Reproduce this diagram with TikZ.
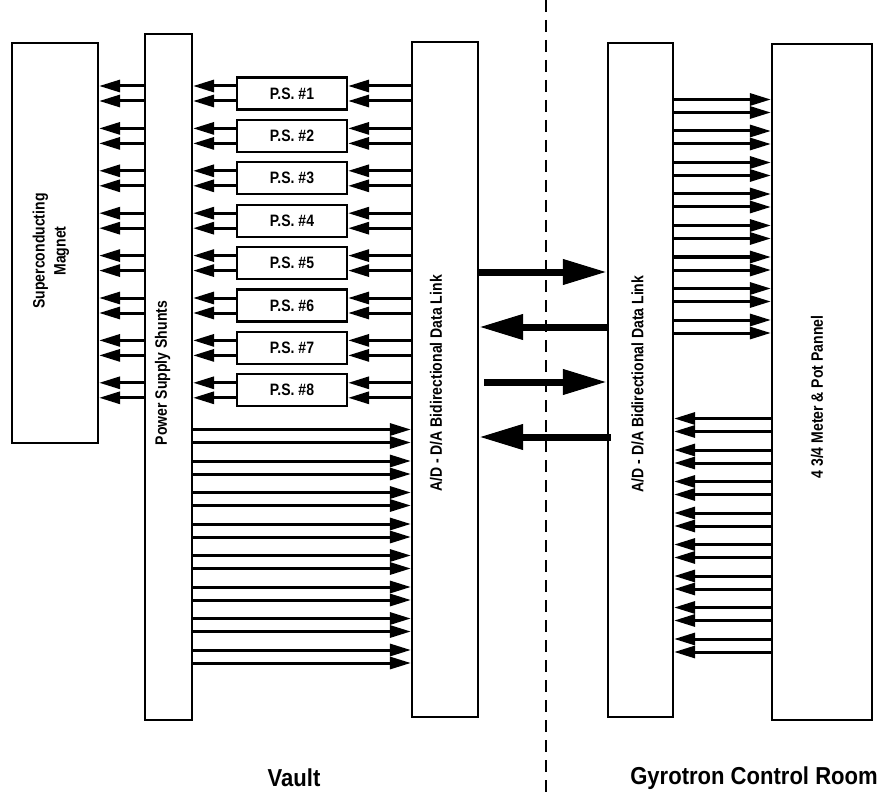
\documentclass[tikz,border=0pt]{standalone}
\usepackage{fontspec}
\setmainfont{Liberation Sans}
\newfontfamily\condfont[FakeStretch=0.85]{Liberation Sans}
\newfontfamily\roomfont[FakeStretch=0.9]{Liberation Sans}
\usetikzlibrary{arrows.meta,calc}

\begin{document}
\begin{tikzpicture}[
            x=1pt, y=-1pt,
            box/.style={draw, line width=2.2pt, rectangle, inner sep=0pt},
            psbox/.style={draw, line width=2.2pt, rectangle, minimum width=110pt, minimum height=32pt, inner sep=0pt, font=\condfont\bfseries\fontsize{16.5}{18}\selectfont},
            lbl/.style={rotate=90, align=center, inner sep=0pt, font=\condfont\bfseries\fontsize{16.5}{21}\selectfont},
            room/.style={inner sep=0pt, font=\roomfont\bfseries\fontsize{24.5}{26}\selectfont},
            wire/.style={draw, line width=3pt, -{Triangle[length=21pt,width=12pt]}},
            bus/.style={draw, line width=7pt, -{Triangle[length=44pt,width=24pt]}},
            divider/.style={draw, line width=1.8pt, dash pattern=on 12pt off 8pt}
        ]
        \useasboundingbox (0,0) rectangle (880,794);

        % blocks
        \node[box, minimum width=86pt, minimum height=400pt] (magnet) at (55,243) {};
        \node[box, minimum width=47pt, minimum height=686pt] (shunts) at (168.5,377) {};
        \node[box, minimum width=66pt, minimum height=675pt] (linkL) at (445,379.5) {};
        \node[box, minimum width=65pt, minimum height=674pt] (linkR) at (640.5,380) {};
        \node[box, minimum width=100pt, minimum height=676pt] (meter) at (822,382) {};

        \node[lbl] (magnetlbl) at ([xshift=-4pt,yshift=-8pt]magnet.center) {Superconducting\\Magnet};
        \node[lbl] (shuntslbl) at ([xshift=-6pt,yshift=4pt]shunts.center) {Power Supply Shunts};
        \node[lbl] (linkLlbl) at ([xshift=-9pt,yshift=-4pt]linkL.center) {A/D - D/A Bidirectional Data Link};
        \node[lbl] (linkRlbl) at ([xshift=-3pt,yshift=-4pt]linkR.center) {A/D - D/A Bidirectional Data Link};
        \node[lbl] (meterlbl) at ([xshift=-5pt,yshift=-15pt]meter.center) {4 3/4 Meter \& Pot Pannel};

        % power supplies
        \foreach \i in {1,...,8} {
            \node[psbox] (ps\i) at (292, {93.5+42.4*(\i-1)}) {P.S. \#\i};
            \foreach \s [count=\j] in {7.5,-7.5} {
                \coordinate (psw\i\j) at ([yshift=\s pt]ps\i.west);
                \coordinate (pse\i\j) at ([yshift=\s pt]ps\i.east);
                \draw[wire] (psw\i\j) -- (psw\i\j -| shunts.east);
                \draw[wire] (pse\i\j -| linkL.west) -- (pse\i\j);
                \draw[wire] (psw\i\j -| shunts.west) -- (psw\i\j -| magnet.east);
            }
        }

        % shunts to data link, data link to panel
        \foreach \k in {0,...,7} {
            \foreach \s in {-6.5,6.5} {
                \draw[wire] (shunts.east |- 0,{436+31.5*\k+\s}) -- (linkL.west |- 0,{436+31.5*\k+\s});
                \draw[wire] (linkR.east |- 0,{106+31.5*\k+\s}) -- (meter.west |- 0,{106+31.5*\k+\s});
                \draw[wire] (meter.west |- 0,{425+31.5*\k+\s}) -- (linkR.east |- 0,{425+31.5*\k+\s});
            }
        }

        % data links
        \draw[bus] (linkL.east |- 0,272) -- (linkR.west |- 0,272);
        \draw[bus] (linkR.west |- 0,327) -- (linkL.east |- 0,327);
        \draw[bus] ($(linkL.east |- 0,382)+(5,0)$) -- (linkR.west |- 0,382);
        \draw[bus] ($(linkR.west |- 0,437)+(4,0)$) -- (linkL.east |- 0,437);

        \coordinate (divtop) at (546,0);
        \coordinate (divbot) at (546,794);
        \draw[divider] (divtop) -- (divbot);

        \node[room] (vault) at (294,778) {Vault};
        \node[room] (gyro) at (754,778) {Gyrotron Control Room};
    \end{tikzpicture}
\end{document}
